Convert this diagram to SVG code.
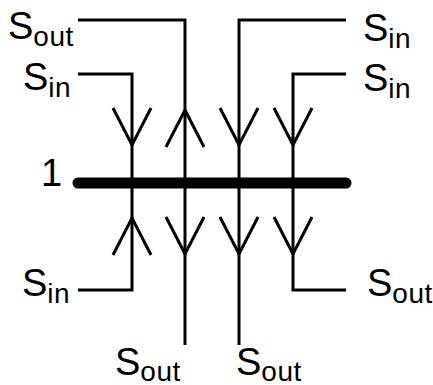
<svg xmlns="http://www.w3.org/2000/svg" width="433" height="385" viewBox="0 0 433 385">
<style>
.w{fill:none;stroke:#000;stroke-width:3;stroke-linecap:butt;stroke-linejoin:miter}
.a{fill:none;stroke:#000;stroke-width:3;stroke-linejoin:miter}
.t{font-family:"Liberation Sans",Arial,sans-serif;font-size:38px;fill:#000}
.s{font-size:28px;letter-spacing:0.5px}
</style>
<rect width="433" height="385" fill="#fff"/>
<g id="bus">
<line x1="78" y1="183" x2="346" y2="183" stroke="#000" stroke-width="11" stroke-linecap="round"/>
<text class="t" x="41" y="186">1</text>
</g>
<g id="connectors">
<polyline class="w" points="78,20 185,20 185,345"/>
<polyline class="w" points="78,74 132,74 132,290 78,290"/>
<polyline class="w" points="346,20 239,20 239,345"/>
<polyline class="w" points="346,74 293,74 293,290 346,290"/>
<polyline class="a" points="113,108 132,145 151,108"/>
<polyline class="a" points="166,147 185,110 204,147"/>
<polyline class="a" points="220,108 239,145 258,108"/>
<polyline class="a" points="274,108 293,145 312,108"/>
<polyline class="a" points="113,255 132,218 151,255"/>
<polyline class="a" points="166,217 185,254 204,217"/>
<polyline class="a" points="220,217 239,254 258,217"/>
<polyline class="a" points="274,217 293,254 312,217"/>
</g>
<g id="label-sout-tl"><text class="t" x="8" y="39">S<tspan class="s" dy="7">out</tspan></text></g>
<g id="label-sin-l1"><text class="t" x="23" y="90">S<tspan class="s" dy="7">in</tspan></text></g>
<g id="label-sin-tr"><text class="t" x="363" y="41">S<tspan class="s" dy="7">in</tspan></text></g>
<g id="label-sin-rb"><text class="t" x="363" y="91">S<tspan class="s" dy="7">in</tspan></text></g>
<g id="label-sin-bl"><text class="t" x="22" y="296">S<tspan class="s" dy="7">in</tspan></text></g>
<g id="label-sout-br"><text class="t" x="367" y="296">S<tspan class="s" dy="7">out</tspan></text></g>
<g id="label-sout-b1"><text class="t" x="115" y="375">S<tspan class="s" dy="6">out</tspan></text></g>
<g id="label-sout-b2"><text class="t" x="236" y="375">S<tspan class="s" dy="6">out</tspan></text></g>
</svg>
